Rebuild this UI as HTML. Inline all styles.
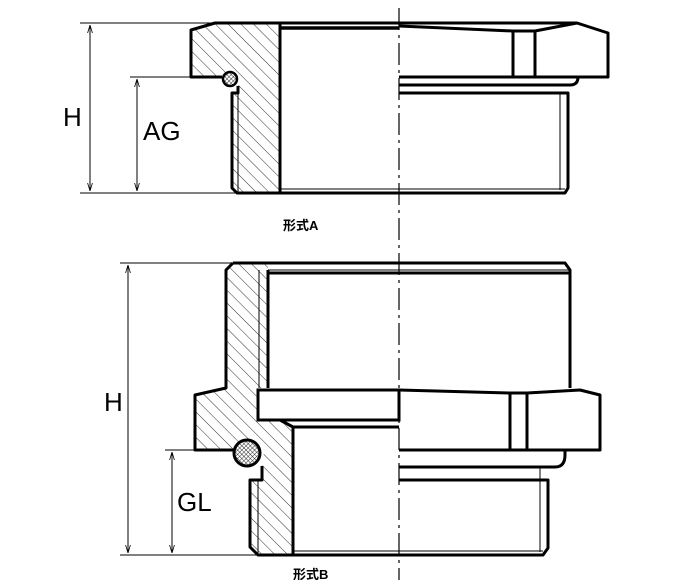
<!DOCTYPE html>
<html><head><meta charset="utf-8"><style>body{margin:0;background:#fff}svg{display:block}</style></head><body>
<svg width="700" height="580" viewBox="0 0 700 580" xmlns="http://www.w3.org/2000/svg">
<defs>
<pattern id="h" width="9" height="9" patternUnits="userSpaceOnUse" patternTransform="rotate(-45)">
<line x1="0" y1="0" x2="0" y2="9" stroke="#000" stroke-width="0.8"/></pattern>
<pattern id="x" width="3" height="3" patternUnits="userSpaceOnUse" patternTransform="rotate(45)">
<rect width="3" height="3" fill="#fff"/><line x1="0" y1="0" x2="0" y2="3" stroke="#000" stroke-width="0.8"/><line x1="0" y1="0" x2="3" y2="0" stroke="#000" stroke-width="0.8"/></pattern>
<marker id="a" viewBox="0 0 10 10" refX="10" refY="5" markerWidth="8" markerHeight="8" orient="auto-start-reverse"><path d="M0,2 L10,5 L0,8" fill="none" stroke="#000" stroke-width="1"/></marker>
</defs>
<g fill="none" stroke="#000">
<!-- centerline -->
<line x1="399" y1="8" x2="399" y2="580" stroke-width="1.2" stroke-dasharray="22,5,3,5"/>

<!-- ===== TOP FIGURE ===== -->
<path d="M191,30 L215,23 L280,23 L280,193 L237,193 L232,188 L232,93 L238,93 L238,86 A7,7 0 1 0 222,77 L191,77 Z" fill="url(#h)" stroke="none"/>
<path d="M222,77 L191,77 L191,30 L215,23 L280,23 L280,193 L237,193 L232,188 L232,93 L238,93 L238,86" stroke-width="3" stroke-linejoin="round"/>
<circle cx="230" cy="79" r="7" fill="url(#x)" stroke-width="2.5"/>
<line x1="238" y1="93" x2="238" y2="193" stroke-width="1"/>
<line x1="280" y1="23" x2="280" y2="193" stroke-width="3"/>
<line x1="280" y1="28" x2="399" y2="28" stroke-width="3.5"/>
<line x1="280" y1="23" x2="577" y2="23" stroke-width="3"/>
<path d="M399,26 L513,31 L535,31 L577,23 L608,33 L608,77 L399,77" stroke-width="3" stroke-linejoin="round"/>
<path d="M513,31 L513,77 M535,31 L535,77" stroke-width="3"/>
<path d="M399,85 L570,85 Q578,85 578,77" stroke-width="3"/>
<path d="M399,93 L568,93 L568,188 L565,193 L280,193" stroke-width="3" stroke-linejoin="round"/>
<path d="M560,93 L560,190 M280,189 L565,189" stroke-width="1"/>

<!-- dims top -->
<path d="M80,23 L215,23 M80,193 L237,193 M130,77 L191,77" stroke-width="1"/>
<line x1="90" y1="25" x2="90" y2="191" stroke-width="1" marker-start="url(#a)" marker-end="url(#a)"/>
<line x1="137" y1="79" x2="137" y2="191" stroke-width="1" marker-start="url(#a)" marker-end="url(#a)"/>

<!-- ===== BOTTOM FIGURE ===== -->
<path d="M233,263 L268,263 L268,388 L258,388 L258,420 L280,420 L293,427 L293,555 L258,555 L250,547 L250,480 L262,480 L262,466 A13,13 0 1 0 236,450 L195,450 L195,395 L226,388 L226,270 Z" fill="url(#h)" stroke="none"/>
<path d="M233,263 L226,270 L226,388 L195,395 L195,450 L236,450 M262,466 L262,480 L250,480 L250,547 L258,555 L293,555 L293,427 L280,420" stroke-width="3" stroke-linejoin="round"/>
<circle cx="247" cy="453" r="13" fill="url(#x)" stroke-width="3"/>
<line x1="259" y1="270" x2="259" y2="388" stroke-width="1"/>
<line x1="258" y1="480" x2="258" y2="555" stroke-width="1"/>
<path d="M233,263 L565,263 L570,270 L570,388" stroke-width="3" stroke-linejoin="round"/>
<line x1="268" y1="270" x2="570" y2="270" stroke-width="1"/>
<line x1="268" y1="270" x2="268" y2="388" stroke-width="3"/>
<line x1="268" y1="273" x2="570" y2="273" stroke-width="3"/>
<rect x="258" y="390" width="141" height="30" fill="#fff" stroke-width="3"/>
<path d="M293,427 L399,427" stroke-width="3"/>
<path d="M399,390 L510,393 L527,393 L580,390 L600,395 L600,450 L399,450" stroke-width="3" stroke-linejoin="round"/>
<path d="M510,393 L510,450 M527,393 L527,450" stroke-width="3"/>
<path d="M399,467 L555,467 Q565,467 565,455 L565,450" stroke-width="3"/>
<path d="M399,480 L548,480 L548,548 L543,555 L293,555" stroke-width="3" stroke-linejoin="round"/>
<path d="M540,467 L540,552 M293,551 L543,551" stroke-width="1"/>

<!-- dims bottom -->
<path d="M120,263 L233,263 M120,555 L258,555 M165,450 L195,450" stroke-width="1"/>
<line x1="128" y1="265" x2="128" y2="553" stroke-width="1" marker-start="url(#a)" marker-end="url(#a)"/>
<line x1="172" y1="452" x2="172" y2="553" stroke-width="1" marker-start="url(#a)" marker-end="url(#a)"/>
</g>
<g font-family="'Liberation Sans','Noto Sans CJK SC',sans-serif" fill="#000">
<text x="63" y="126" font-size="26">H</text>
<text x="143" y="140" font-size="26">AG</text>
<text x="104" y="411" font-size="26">H</text>
<text x="177" y="511" font-size="26">GL</text>
<text x="283" y="230" font-size="13" font-weight="bold">形式A</text>
<text x="293" y="579" font-size="13" font-weight="bold">形式B</text>
</g>
</svg>
</body></html>
